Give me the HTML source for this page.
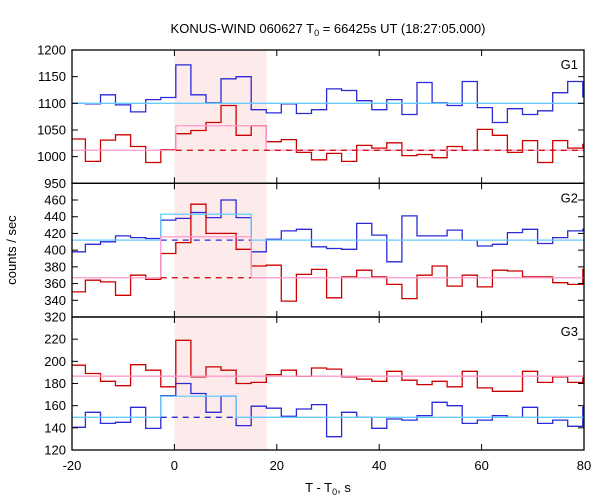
<!DOCTYPE html>
<html><head><meta charset="utf-8">
<style>
body{margin:0;background:#fff;}
svg{display:block;font-family:"Liberation Sans","DejaVu Sans",sans-serif;}
</style></head>
<body>
<svg id="chart" width="600" height="500" viewBox="0 0 600 500" xmlns="http://www.w3.org/2000/svg">
<rect width="600" height="500" fill="#fff"/>
<text x="328" y="33" font-size="13" text-anchor="middle">KONUS-WIND 060627 T<tspan font-size="9" dy="3">0</tspan><tspan dy="-3"> = 66425s UT (18:27:05.000)</tspan></text>
<text transform="translate(16,250) rotate(-90)" font-size="13" text-anchor="middle">counts / sec</text>
<text x="328" y="492" font-size="13" text-anchor="middle">T - T<tspan font-size="9" dy="3">0</tspan><tspan dy="-3">, s</tspan></text>
<g id="plots"></g>
</svg>
<script>
const xTicks = [-20, 0, 20, 40, 60, 80];
const binStart = -20.33;
const binWidth = 2.944;
const shadeRange = [0, 18];
const g1Blue = [1100,1099,1116,1097,1084,1107,1111,1172,1116,1101,1146,1150,1088,1082,1099,1081,1088,1127,1124,1105,1088,1107,1079,1139,1101,1096,1141,1092,1064,1090,1079,1086,1120,1141,1112];
const g1Red = [1033,991,1031,1041,1019,989,1013,1043,1049,1064,1096,1040,1058,1028,1032,1008,994,1006,991,1021,1016,1026,1002,1004,998,1019,1012,1051,1040,1008,1030,989,1030,1016,1023];
const g2Blue = [398,407,410,417,415,414,436,438,445,439,460,439,398,413,423,425,404,402,401,432,418,386,441,417,417,424,412,405,407,421,425,408,415,423,425];
const g2Red = [350,364,362,346,370,365,396,409,455,420,420,401,381,382,339,371,377,343,368,376,368,359,342,370,381,357,370,356,376,375,368,368,361,359,377];
const g3Blue = [140.5,154,144,145,158.5,139.5,169,180,171,154,168.5,142,159.5,157.7,150.4,157,161,132,154,149.5,139.6,148,147,151,163,160,144,147,151,149.5,158.5,144,147,141.4,158.5];
const g3Red = [196.5,189,182,178,197,192,177,219,186,195,192,180,181,188,192,186.5,194,193,186,184,182,191,183,179,182,177,191,176,173,173,191,181,186,181,185];
const g1Ticks = [950,1000,1050,1100,1150,1200];
const g2Ticks = [320,340,360,380,400,420,440,460];
const g3Ticks = [120,140,160,180,200,220];
// background levels and burst-box levels: [blueBg, blueBox, redBg, redBox]
const g1Levels = [1100, null, 1012, 1058];
const g2Levels = [412, 443, 367, 416];
const g3Levels = [149.5, 168.5, 186.6, null];
// box bin ranges [first, last]
const g1BoxBins = [7, 12];
const g2BoxBins = [6, 11];
const g3BoxBins = [6, 10];

const NS = "http://www.w3.org/2000/svg";
const L = 72, R = 584;
const xMin = -20, xMax = 80;
function X(t){ return L + (Math.max(xMin, Math.min(xMax, t)) - xMin) / (xMax - xMin) * (R - L); }
function mk(tag, attrs, parent){
  const e = document.createElementNS(NS, tag);
  for (const k in attrs) e.setAttribute(k, attrs[k]);
  parent.appendChild(e); return e;
}
const root = document.getElementById('plots');
const BLUE = "#2a2ad8", RED = "#cc0000", CYAN = "#66ccff", PINK = "#ff99cc";

function panel(name, top, bot, yMin, yMax, ticks, blue, red, levels, boxBins, label, dashToEnd){
  const g = mk('g', {}, root);
  
  
  const Y = v => bot - (v - yMin) / (yMax - yMin) * (bot - top);
  const sh = mk('rect', {x: X(shadeRange[0]), y: top, width: X(shadeRange[1]) - X(shadeRange[0]), height: bot - top, fill: "#fdeaea"}, g);
  
  
  const bs = k => binStart + k * binWidth;
  function step(vals, color, nm){
    let d = "";
    vals.forEach((v, k) => {
      const x0 = X(bs(k)), x1 = X(bs(k + 1)), y = Y(v);
      d += (k === 0 ? "M" : "L") + x0.toFixed(1) + "," + y.toFixed(1) + "L" + x1.toFixed(1) + "," + y.toFixed(1);
    });
    const p = mk('path', {d: d, fill: "none", stroke: color, "stroke-width": 1.3}, g);
    
    
  }
  step(blue, BLUE, name + '-blue-series');
  step(red, RED, name + '-red-series');
  const bx0 = X(bs(boxBins[0])), bx1 = X(bs(boxBins[1] + 1));
  function level(bg, box, color, dashColor, nm){
    if (bg == null) return;
    if (box == null){
      const l = mk('line', {x1: L, x2: R, y1: Y(bg), y2: Y(bg), stroke: color, "stroke-width": 1.3}, g);
      
      
      return;
    }
    const p = mk('path', {d: `M${L},${Y(bg)}H${bx0}V${Y(box)}H${bx1}V${Y(bg)}H${R}`, fill: "none", stroke: color, "stroke-width": 1.3}, g);
    
    
    const dl = mk('line', {x1: bx0, x2: dashToEnd ? R : bx1, y1: Y(bg), y2: Y(bg), stroke: dashColor, "stroke-width": 1.3, "stroke-dasharray": "6,5"}, g);
    
    
  }
  level(levels[0], levels[1], CYAN, BLUE, name + '-blue');
  level(levels[2], levels[3], PINK, RED, name + '-red');
  const fr = mk('rect', {x: L, y: top, width: R - L, height: bot - top, fill: "none", stroke: "#000", "stroke-width": 1.3}, g);
  
  
  ticks.forEach(v => {
    const y = Y(v);
    mk('line', {x1: L, x2: L + 6, y1: y, y2: y, stroke: "#000", "stroke-width": 1}, g);
    mk('line', {x1: R, x2: R - 6, y1: y, y2: y, stroke: "#000", "stroke-width": 1}, g);
    const t = mk('text', {x: 66, y: y + 4.5, "font-size": 13, "text-anchor": "end"}, g);
    
    
    t.textContent = v;
  });
  xTicks.forEach(v => {
    const x = X(v);
    mk('line', {x1: x, x2: x, y1: top, y2: top + 6, stroke: "#000", "stroke-width": 1}, g);
    mk('line', {x1: x, x2: x, y1: bot, y2: bot - 6, stroke: "#000", "stroke-width": 1}, g);
  });
  const lb = mk('text', {x: 578, y: top + 19, "font-size": 13, "text-anchor": "end"}, g);
  
  
  lb.textContent = label;
}
panel('g1', 50, 183.3, 950, 1200, g1Ticks, g1Blue, g1Red, g1Levels, g1BoxBins, 'G1', true);
panel('g2', 183.3, 317, 320, 480, g2Ticks, g2Blue, g2Red, g2Levels, g2BoxBins, 'G2', false);
panel('g3', 317, 450, 120, 240, g3Ticks, g3Blue, g3Red, g3Levels, g3BoxBins, 'G3', false);
xTicks.forEach(v => {
  const t = mk('text', {x: X(v), y: 470, "font-size": 13, "text-anchor": "middle"}, root);
  
  
  t.textContent = v;
});
</script>
</body></html>
